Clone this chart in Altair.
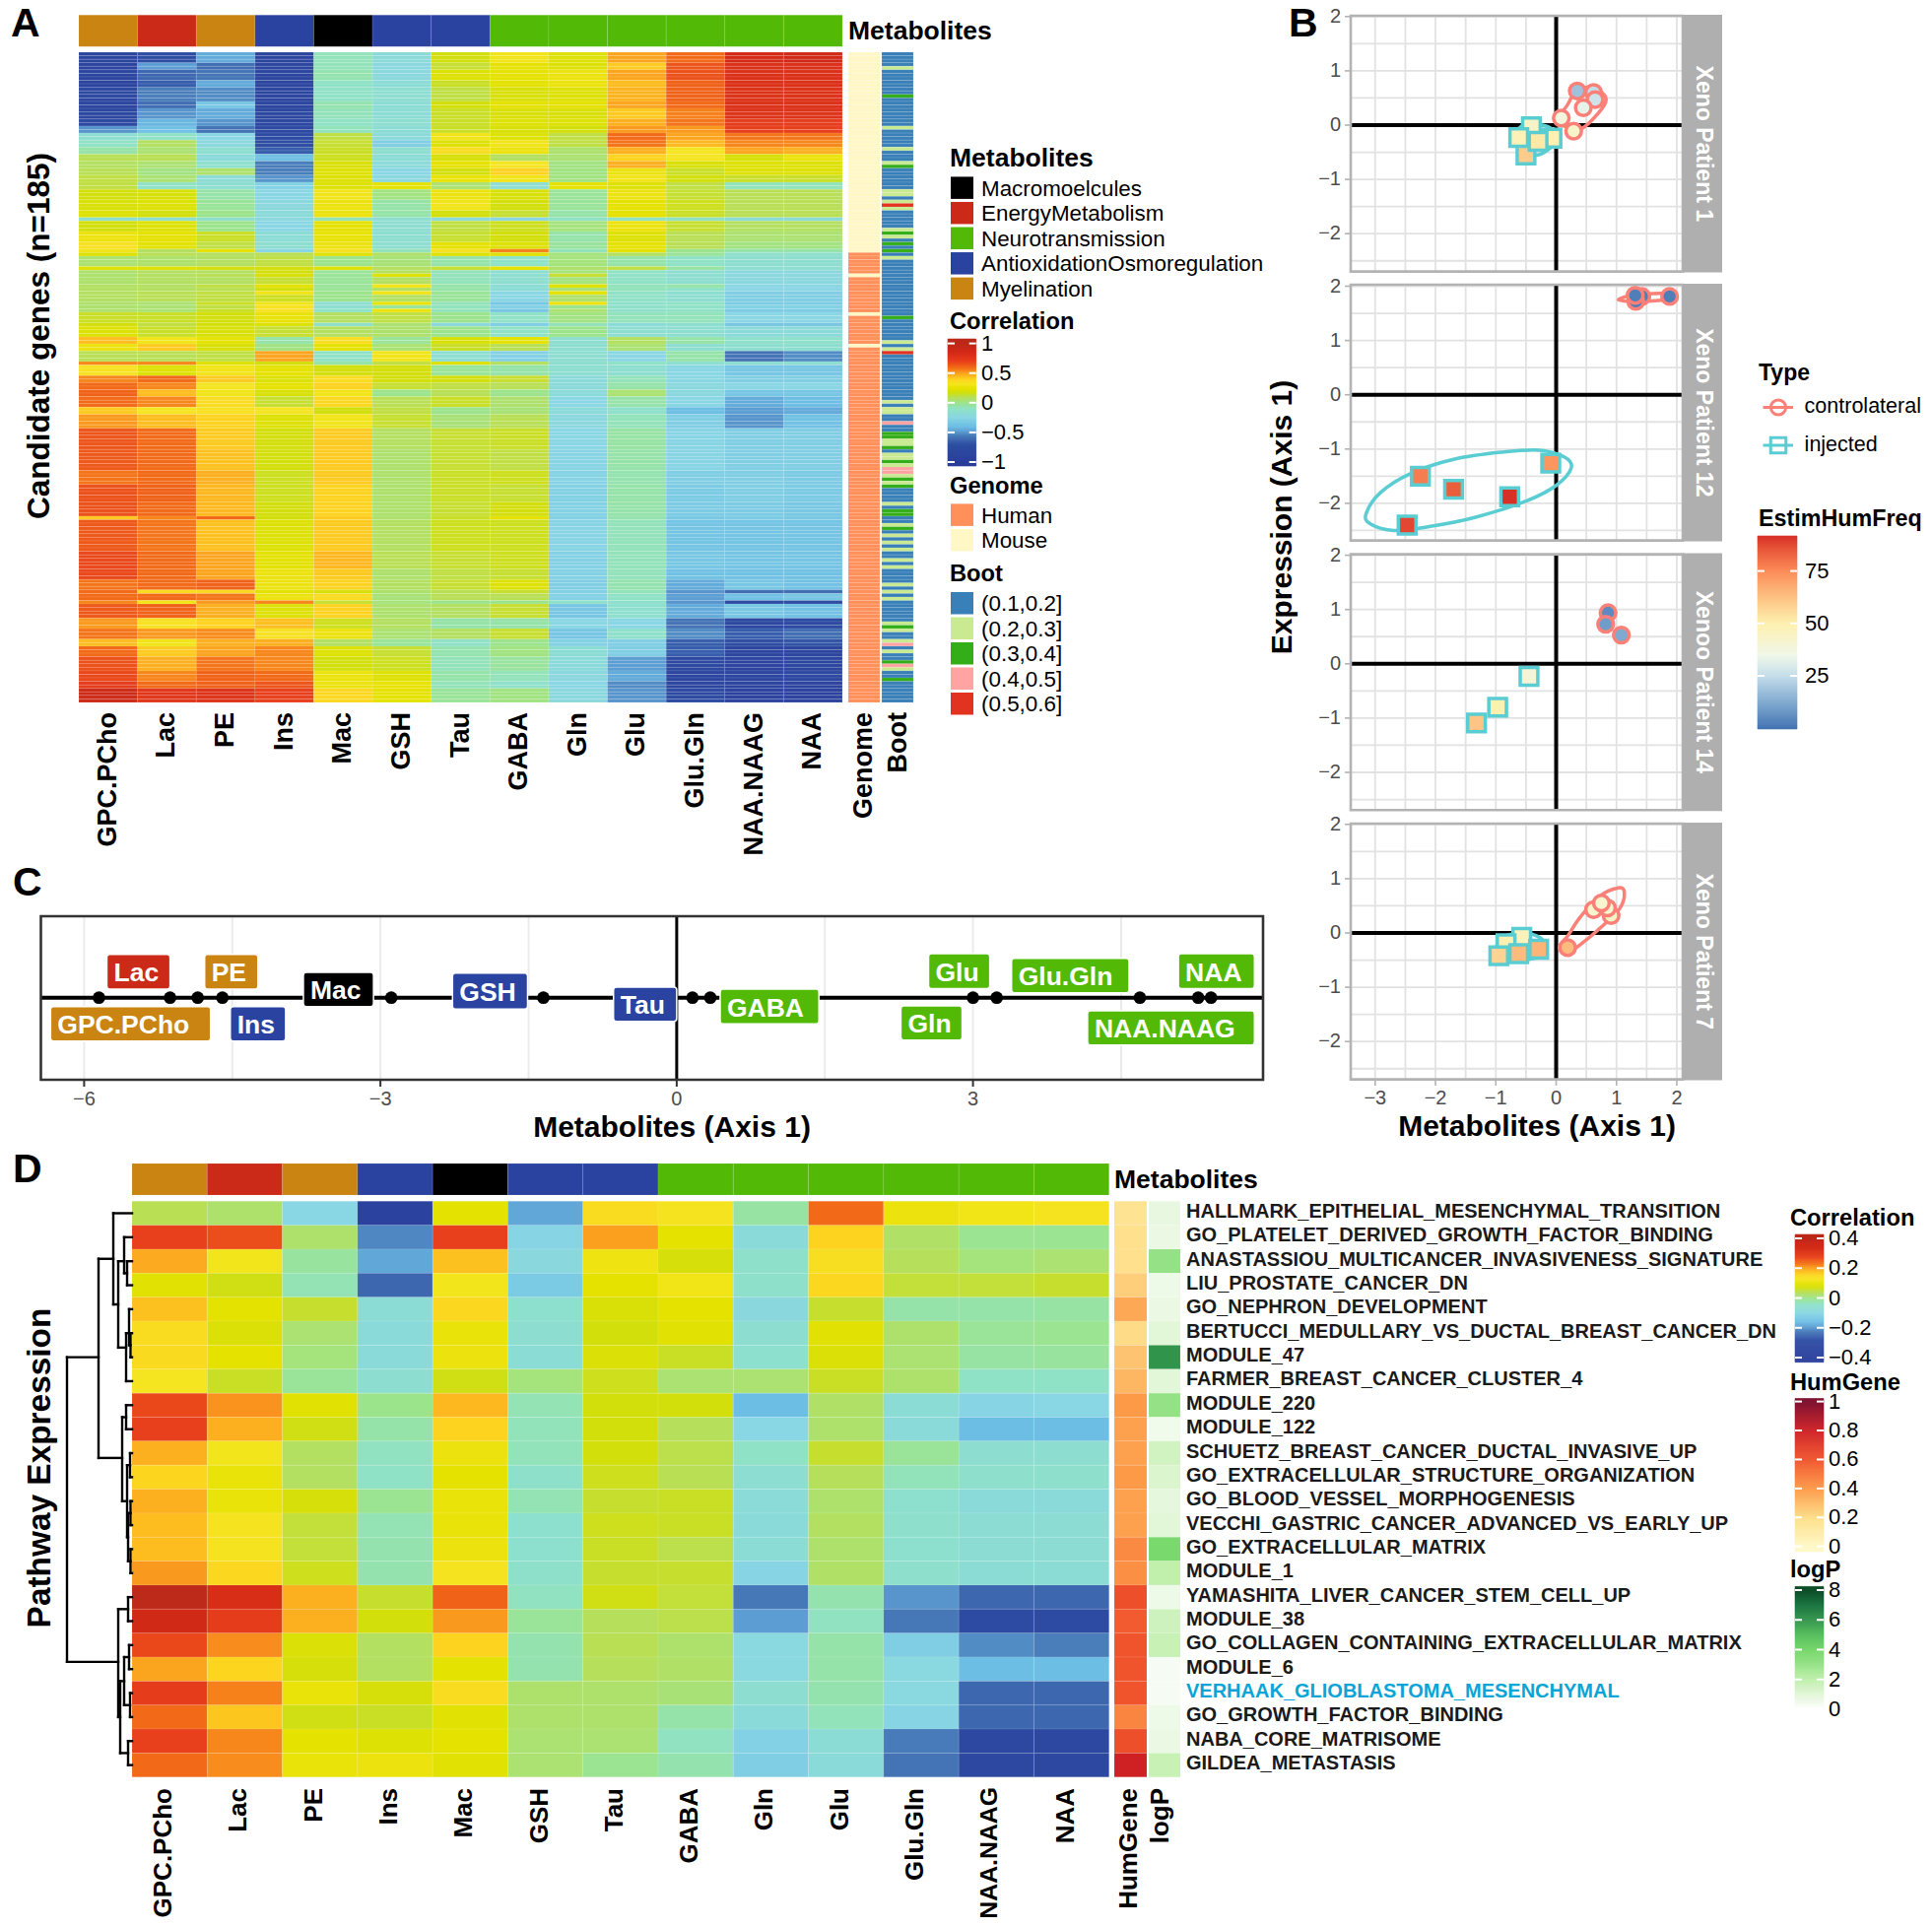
import altair as alt
import numpy as np
import pandas as pd

FONT = "Liberation Sans"
METAB = ["GPC.PCho","Lac","PE","Ins","Mac","GSH","Tau","GABA","Gln","Glu","Glu.Gln","NAA.NAAG","NAA"]
CLASS = ["Myelination","EnergyMetabolism","Myelination","AntioxidationOsmoregulation","Macromoelcules",
         "AntioxidationOsmoregulation","AntioxidationOsmoregulation"] + ["Neurotransmission"]*6
CLASS_NAMES = ["Macromoelcules","EnergyMetabolism","Neurotransmission","AntioxidationOsmoregulation","Myelination"]
CLASS_COLS = ["#000000","#CB2A18","#52BA07","#2A43A0","#C98412"]

STOPS = [-100,-70,-55,-47,-40,-25,-10,0,10,18,25,32,40,46,50,56,60,70,85,100]
COLS = ["#2A3E9C","#2E4EA4","#4A7EBB","#5FA3D6","#6DBEE4","#89D6E4","#8FE2C6","#9CE48C","#B9DF55","#D3DF0A",
        "#E6E200","#F5E520","#FDD31F","#FDB81F","#FBA51F","#F6801A","#F26A17","#E8401C","#D42A16","#BE2A1A"]

A_BANDS = [
(3,[-85,-70,-45,-85,-8,-20,18,30,22,50,60,84,88]),
(2,[-88,-48,-60,-85,-8,-22,14,25,22,42,65,80,80]),
(3,[-85,-62,-58,-85,-6,-22,22,25,28,50,66,80,80]),
(2,[-88,-65,-45,-85,-10,-18,15,24,28,45,62,80,80]),
(4,[-82,-55,-52,-85,-10,-15,12,20,22,47,62,79,79]),
(2,[-85,-60,-35,-85,-6,-18,18,25,25,50,60,80,80]),
(3,[-82,-50,-45,-82,-8,-18,15,20,20,42,56,78,78]),
(2,[-78,-42,-50,-82,-10,-15,15,22,22,48,58,72,72]),
(2,[-50,-38,-58,-80,-8,-18,15,20,18,52,52,70,70]),
(2,[-15,-10,-25,-75,12,-20,30,22,12,60,50,58,58]),
(2,[-10,8,-22,-72,14,-30,22,30,12,58,46,55,55]),
(2,[-5,5,-15,-65,15,-15,35,28,6,48,32,50,48]),
(2,[10,10,-20,-38,16,-18,20,8,5,40,32,20,28]),
(2,[8,5,-14,-55,20,-20,25,32,2,48,20,22,22]),
(2,[10,2,6,-55,22,-25,18,40,2,28,15,22,22]),
(2,[12,5,-18,-50,22,-22,26,30,2,30,18,15,15]),
(2,[12,-10,-15,-28,22,25,5,-15,25,22,12,-8,-8]),
(3,[18,20,-5,-25,30,2,28,20,-2,28,14,10,10]),
(3,[20,22,-2,-22,28,-5,30,18,-2,25,16,10,10]),
(2,[22,18,0,-20,28,-5,18,14,-5,25,15,10,10]),
(1,[-15,-15,-12,-22,-8,-15,-20,-25,-10,-10,-10,-20,-20]),
(3,[18,22,0,-25,25,-15,12,16,3,28,14,8,8]),
(3,[28,25,15,-18,26,-15,14,18,-5,22,10,5,5]),
(2,[34,24,12,-15,28,-15,25,22,-3,25,10,2,2]),
(1,[30,8,25,-25,34,-8,34,56,-8,25,0,-5,-5]),
(1,[22,10,8,10,22,6,22,22,3,8,-2,-12,-12]),
(3,[5,6,8,12,0,4,-5,-10,3,-5,-10,-15,-15]),
(1,[22,22,18,18,22,8,14,24,6,12,-4,-15,-15]),
(1,[6,8,8,18,-2,8,-8,-15,3,-10,-15,-22,-22]),
(1,[6,8,10,20,-2,22,-8,-15,14,-10,-15,-22,-22]),
(2,[6,8,8,14,-2,8,-8,-15,3,-10,-15,-22,-22]),
(1,[8,8,12,24,-2,30,-5,-18,22,-8,-5,-25,-25]),
(1,[8,8,10,18,-2,8,-5,-18,4,-8,-10,-25,-25]),
(1,[8,10,12,30,0,30,-2,-25,25,-10,-15,-30,-30]),
(2,[8,10,12,16,0,8,-2,-25,6,-10,-15,-30,-30]),
(1,[6,5,15,30,-15,26,-8,-35,28,-12,-10,-32,-32]),
(1,[6,5,12,34,-15,-2,-8,-28,0,-12,-10,-28,-28]),
(1,[6,5,15,34,-10,28,-8,-35,5,-12,-10,-32,-32]),
(3,[15,15,18,26,8,12,0,-10,2,-8,-8,-25,-25]),
(1,[18,12,18,22,-12,5,-22,-30,-8,-20,-15,-35,-35]),
(3,[22,15,20,14,8,6,0,-10,0,-15,-15,-20,-20]),
(2,[45,30,25,-5,35,-2,20,24,-15,8,-5,-12,-12]),
(2,[28,42,20,2,25,5,15,10,-15,5,-15,-15,-15]),
(3,[10,10,12,50,-10,30,-15,-28,-15,-25,-5,-58,-52]),
(1,[55,55,22,18,-5,12,22,8,-15,-10,-15,-15,-15]),
(3,[34,22,30,25,18,18,-2,-5,-15,-15,-25,-35,-35]),
(2,[55,60,42,22,36,18,18,14,-20,-8,-25,-30,-30]),
(2,[60,55,32,25,40,14,12,10,-20,-5,-22,-25,-25]),
(2,[62,45,30,20,30,0,10,0,-20,5,-22,-35,-35]),
(3,[60,55,36,14,38,10,15,6,-25,-5,-25,-45,-40]),
(2,[42,32,34,32,18,12,0,4,-20,-12,-40,-48,-45]),
(4,[52,45,40,22,30,14,4,10,-22,-8,-30,-50,-38]),
(6,[65,60,42,18,42,8,14,15,-25,-4,-26,-30,-30]),
(6,[64,60,44,18,42,6,14,12,-26,-5,-26,-30,-30]),
(4,[58,60,48,16,42,6,15,16,-27,-6,-30,-30,-32]),
(5,[66,62,46,16,40,6,15,14,-28,-5,-32,-30,-32]),
(4,[66,60,46,18,40,6,14,18,-28,-5,-32,-32,-34]),
(1,[42,55,60,18,42,6,15,25,-28,-6,-34,-32,-34]),
(9,[64,58,44,22,42,8,16,16,-26,-8,-36,-36,-36]),
(5,[68,60,50,24,46,10,14,16,-28,-8,-35,-36,-36]),
(3,[68,60,50,28,42,6,12,14,-28,-8,-38,-38,-38]),
(3,[58,60,62,28,40,8,14,22,-30,-6,-45,-35,-38]),
(1,[60,36,38,24,20,6,10,14,-28,-8,-50,-60,-60]),
(2,[60,60,58,28,36,4,10,10,-28,-10,-48,-38,-35]),
(1,[55,30,52,55,14,3,0,0,-12,-14,-50,-75,-70]),
(4,[64,62,48,22,40,6,8,14,-35,-14,-45,-35,-38]),
(3,[52,34,40,44,16,8,-5,-5,-25,-25,-58,-82,-78]),
(3,[58,52,54,34,28,5,8,14,-35,-12,-52,-65,-60]),
(2,[45,30,48,48,8,-2,-10,0,-28,-30,-65,-72,-68]),
(3,[60,42,50,55,22,14,-6,2,-18,-30,-65,-85,-85]),
(4,[66,48,58,55,18,16,-8,-3,-20,-48,-82,-88,-85]),
(3,[68,55,62,60,28,22,-5,-8,-22,-45,-85,-85,-82]),
(2,[72,60,62,65,28,26,-8,-12,-25,-52,-85,-88,-88]),
(4,[90,76,78,70,38,25,-2,2,-22,-50,-78,-90,-90]),
]
GENOME_RUNS = [("Mouse",57),("Human",6),("Mouse",1),("Human",10),("Mouse",1),("Human",8),("Mouse",1),("Human",101)]
BOOT_NAMES = ["(0.1,0.2]","(0.2,0.3]","(0.3,0.4]","(0.4,0.5]","(0.5,0.6]"]
BOOT_COLS = ["#3A80B8","#C9EA90","#33AE18","#FFA3A3","#E23320"]
BOOT_RUNS = [(1,4),(2,1),(1,7),(3,1),(1,8),(2,1),(1,5),(2,1),(1,3),(2,1),(3,1),(1,6),(2,2),(1,1),(2,1),(5,1),(2,1),(1,5),
 (2,1),(3,1),(2,1),(1,1),(3,1),(1,1),(3,1),(1,1),(2,1),(1,16),(3,1),(1,6),(2,1),(1,1),(2,1),(5,1),(1,13),(2,1),(1,1),(2,2),
 (1,2),(4,1),(1,2),(3,2),(2,2),(3,1),(1,1),(2,2),(3,1),(2,1),(4,2),(2,1),(3,1),(2,1),(3,1),(1,4),(2,1),(1,1),(3,2),(1,2),
 (2,1),(3,1),(1,1),(2,1),(1,1),(2,1),(1,1),(2,1),(1,2),(2,1),(1,1),(2,1),(1,4),(2,1),(1,1),(2,1),(1,1),(2,1),(1,6),(2,1),
 (3,1),(2,1),(1,2),(2,1),(4,1),(1,1),(2,1),(1,2),(3,1),(4,1),(2,1),(1,2),(3,1),(1,8)]

D_NAMES = ["HALLMARK_EPITHELIAL_MESENCHYMAL_TRANSITION","GO_PLATELET_DERIVED_GROWTH_FACTOR_BINDING",
"ANASTASSIOU_MULTICANCER_INVASIVENESS_SIGNATURE","LIU_PROSTATE_CANCER_DN","GO_NEPHRON_DEVELOPMENT",
"BERTUCCI_MEDULLARY_VS_DUCTAL_BREAST_CANCER_DN","MODULE_47","FARMER_BREAST_CANCER_CLUSTER_4","MODULE_220","MODULE_122",
"SCHUETZ_BREAST_CANCER_DUCTAL_INVASIVE_UP","GO_EXTRACELLULAR_STRUCTURE_ORGANIZATION","GO_BLOOD_VESSEL_MORPHOGENESIS",
"VECCHI_GASTRIC_CANCER_ADVANCED_VS_EARLY_UP","GO_EXTRACELLULAR_MATRIX","MODULE_1","YAMASHITA_LIVER_CANCER_STEM_CELL_UP",
"MODULE_38","GO_COLLAGEN_CONTAINING_EXTRACELLULAR_MATRIX","MODULE_6","VERHAAK_GLIOBLASTOMA_MESENCHYMAL",
"GO_GROWTH_FACTOR_BINDING","NABA_CORE_MATRISOME","GILDEA_METASTASIS"]
D_ROWS = [
[10,6,-25,-90,24,-46,36,33,-4,60,28,30,33],
[70,67,6,-53,70,-26,51,25,-20,40,7,-1,-1],
[49,31,-3,-46,44,-22,29,19,-12,35,9,3,5],
[23,17,-7,-62,31,-32,25,30,-12,38,13,13,14],
[44,24,14,-18,38,-14,20,25,-22,14,-5,-5,-4],
[36,21,5,-20,27,-15,18,23,-15,23,6,-2,-1],
[37,25,3,-20,28,-18,21,15,-14,21,5,-4,-3],
[32,15,-2,-15,17,3,16,5,5,15,6,-10,-10],
[68,53,23,0,46,-7,18,18,-40,7,-18,-26,-25],
[70,48,17,-5,40,-8,18,9,-25,6,-20,-40,-40],
[48,31,8,-9,28,-8,18,11,-10,14,-2,-15,-15],
[39,27,8,-10,25,-12,16,10,-16,9,-8,-13,-13],
[48,27,19,-1,27,-7,14,15,-19,6,-14,-20,-20],
[45,33,13,-7,27,-14,16,15,-20,8,-13,-17,-17],
[45,33,13,-6,28,-14,15,11,-18,6,-14,-17,-17],
[52,38,16,-6,33,-12,14,14,-26,7,-13,-18,-18],
[100,82,48,14,62,-9,17,13,-57,-6,-50,-62,-62],
[88,72,48,18,52,-2,9,11,-48,-9,-57,-75,-75],
[68,54,21,8,40,-6,10,6,-23,-5,-30,-52,-55],
[50,39,19,8,24,-6,9,7,-23,-5,-23,-40,-40],
[72,56,27,19,36,6,6,4,-15,-6,-23,-62,-62],
[60,43,17,15,23,6,6,-5,-20,-8,-26,-62,-62],
[70,55,25,22,25,5,5,-9,-28,-18,-56,-82,-82],
[60,54,27,28,23,5,-1,-6,-30,-20,-58,-82,-82],
]
D_HUM = [.17,.19,.19,.25,.36,.21,.28,.32,.40,.38,.38,.40,.38,.38,.45,.43,.62,.58,.60,.60,.60,.46,.62,.80]
D_LOGP = [.8,.7,3,.6,.7,1,6,1,3,.5,1.5,1.2,.9,1,3.8,2,.6,1.6,1.8,.3,.3,.6,.7,1.8]
HUM_STOPS = [0,.2,.4,.6,.8,1]
HUM_COLS = ["#FFF9C9","#FEDF8A","#FD9A48","#F0542C","#CF2024","#7B0A2A"]
LOGP_STOPS = [0,1,2,3,4,5,6,7,8]
LOGP_COLS = ["#FFFFFF","#E2F6D8","#C0F0AC","#95E286","#72D766","#52BC58","#30954A","#12703A","#03461F"]
# dendrogram merges: height, child a row, child a height, child b row, child b height
MERGES = [(66,6.0,34,18.7,14),(34,1.9,19,10.2,10),(19,0,0,3.8,14),(14,2,8,5.6,6),(8,1,0,2.5,5),(5,2,0,3,0),(6,5,3,7,0),
(3,4,0,5.5,1.5),(1.5,5,0,6,0),(10,8.5,6,12,5),(6,8,0,9,0),(5,10.5,2,13.5,4),(2,10,0,11,0),(4,12.5,1.5,14.5,1.5),
(1.5,12,0,13,0),(1.5,14,0,15,0),(14,16.5,4,21,12),(4,16,0,17,0),(12,19.5,8,22.5,4),(8,18.5,3,20.5,2),(3,18,0,19,0),
(2,20,0,21,0),(4,22,0,23,0)]

FREQ_STOPS = [0,12,25,35,50,62,75,85,92]
FREQ_COLS = ["#4575B4","#7FA9CF","#C5DDEA","#F0F8E8","#FEF0B0","#FDC585","#FC8D59","#E9593A","#D73027"]
# panel B: x, y, EstimHumFreq
B_FACETS = ["Xeno Patient 1","Xeno Patient 12","Xenoo Patient 14","Xeno Patient 7"]
B_ZERO = [127,400.7,673.8,947]
B_TOP = [16,289,562.6,836]
B_CIRC = [
 [(.35,.63,18),(.62,.60,25),(.645,.47,27),(.45,.32,33),(.085,.13,38),(.29,-.11,43)],
 [(1.31,1.83,2),(1.42,1.81,2),(1.32,1.72,2),(1.88,1.81,2),(1.31,1.83,2)],
 [(.86,.94,5),(.82,.73,9),(1.08,.53,12)],
 [(.19,-.27,64),(.91,.32,44),(.85,.46,42),(.62,.43,42),(.75,.55,42)],
]
B_SQ = [
 [(-.5,-.55,60),(-.41,-.03,44),(-.62,-.23,48),(-.07,-.24,50),(-.30,-.30,52)],
 [(-2.25,-1.5,78),(-1.7,-1.74,84),(-.77,-1.88,92),(-2.47,-2.40,88),(-.09,-1.26,73)],
 [(-.45,-.23,40),(-.97,-.80,50),(-1.32,-1.09,62)],
 [(-.57,-.08,47),(-.29,-.30,66),(-.83,-.20,50),(-.95,-.42,58),(-.62,-.38,64)],
]
B_ELL_C = [
 [(.05,.13),(.18,.36),(.32,.60),(.57,.71),(.76,.60),(.82,.42),(.60,.10),(.39,-.08),(.18,-.05)],
 [(1.03,1.75),(1.3,1.84),(1.9,1.87),(1.98,1.8),(1.85,1.75),(1.3,1.72)],
 [],
 [(.05,-.26),(.2,-.04),(.39,.28),(.71,.67),(1.03,.83),(1.13,.75),(1.06,.46),(.78,.14),(.43,-.19),(.18,-.37)],
]
B_ELL_I = [
 [(-.6,-.45),(-.3,-.55),(0,-.3),(-.1,-.05),(-.5,.02),(-.7,-.2)],
 [(-3.15,-2.19),(-2.91,-1.80),(-2.41,-1.45),(-1.70,-1.19),(-.92,-1.06),(-.28,-1.02),(.14,-1.15),(.25,-1.35),(0,-1.67),
  (-.5,-1.96),(-1.35,-2.26),(-2.06,-2.42),(-2.69,-2.5),(-3.08,-2.38)],
 [],
 [(-1.0,-.45),(-.6,-.5),(-.2,-.4),(-.2,-.15),(-.5,.0),(-.9,-.1)],
]
# panel C
C_DOTS = [-5.85,-5.13,-4.85,-4.60,-2.89,-1.35,.16,.34,3.0,3.24,4.69,5.28,5.41]
C_LAB = ["Lac","PE","GPC.PCho","Ins","Mac","GSH","Tau","GABA","Gln","Glu","Glu.Gln","NAA","NAA.NAAG"]
C_LO = [-5.77,-4.78,-6.34,-4.52,-3.78,-2.27,-.64,.44,2.27,2.55,3.39,5.08,4.16]
C_HI = [-5.13,-4.24,-4.72,-3.96,-3.07,-1.51,0,1.44,2.89,3.17,4.58,5.85,5.85]
C_TOP = [.53,.53,-.11,-.11,.31,.30,.13,.105,-.10,.54,.48,.54,-.16]
C_BOT = [.105,.105,-.53,-.53,-.11,-.14,-.29,-.32,-.52,.11,.06,.11,-.58]
C_CLASS = ["EnergyMetabolism","Myelination","Myelination","AntioxidationOsmoregulation","Macromoelcules",
 "AntioxidationOsmoregulation","AntioxidationOsmoregulation"]+["Neurotransmission"]*6

# ---------- helpers ----------
def sx(dom=(0,1961), rng=(0,1961)):
    return alt.Scale(domain=list(dom), range=[rng[0]-8, rng[1]-8], nice=False, zero=False)
def sy(dom=(0,1957), rng=(0,1957)):
    return alt.Scale(domain=list(dom), range=[rng[0]-8, rng[1]-8], nice=False, zero=False)
def X(f, s=None):
    return alt.X(f+":Q", scale=s or sx(), axis=None)
def Y(f, s=None):
    return alt.Y(f+":Q", scale=s or sy(), axis=None)
def text(items, size, weight="normal", color="#000000", angle=0, align="left", baseline="middle"):
    df = pd.DataFrame(items, columns=["t","x","y"])
    return alt.Chart(df).mark_text(font=FONT, fontSize=size, fontWeight=weight, color=color, angle=angle,
                                   align=align, baseline=baseline).encode(x=X("x"), y=Y("y"), text="t:N")
def boxes(rows, color=None, **mk):
    df = pd.DataFrame(rows, columns=["x","x2","y","y2"])
    return alt.Chart(df).mark_rect(**({"color":color} if color else {}), **mk).encode(
        x=X("x"), x2=alt.X2("x2"), y=Y("y"), y2=alt.Y2("y2"))
def frame(x, x2, y, y2, stroke, w):
    return boxes([(x,x2,y,y2)], fillOpacity=0, stroke=stroke, strokeWidth=w)
def hrule(rows, color, w, xs=None, ys=None, **mk):
    df = pd.DataFrame(rows, columns=["x","x2","y"])
    return alt.Chart(df).mark_rule(color=color, strokeWidth=w, **mk).encode(x=X("x",xs), x2=alt.X2("x2"), y=Y("y",ys))
def vrule(rows, color, w, xs=None, ys=None, **mk):
    df = pd.DataFrame(rows, columns=["x","y","y2"])
    return alt.Chart(df).mark_rule(color=color, strokeWidth=w, **mk).encode(x=X("x",xs), y=Y("y",ys), y2=alt.Y2("y2"))
def heat(df, xs, ys, colorscale, field="v:Q"):
    return alt.Chart(df).mark_rect(stroke="#FFFFFF", strokeOpacity=.15, strokeWidth=.7).encode(
        x=X("c",xs), x2=alt.X2("c2"), y=Y("r",ys), y2=alt.Y2("r2"),
        color=alt.Color(field, scale=colorscale, legend=None))
def cscale(stops, cols):
    return alt.Scale(domain=list(stops), range=list(cols), clamp=True, interpolate="rgb", zero=False, nice=False)
def catscale(names, cols):
    return alt.Scale(domain=list(names), range=list(cols))
def colorbar(x0,x1,top,bot,vlo,ylo,vhi,yhi,stops,cols,ticks,labels,lx,size=22):
    ys = sy((vlo,vhi),(ylo,yhi))
    per = (ylo-yhi)/(vhi-vlo)
    vt, vb = vhi+(yhi-top)/per, vlo-(bot-ylo)/per
    e = np.linspace(vb,vt,int(bot-top)+1)
    df = pd.DataFrame({"a":x0,"b":x1,"v":e[:-1],"v2":e[1:],"m":(e[:-1]+e[1:])/2})
    cs = cscale(stops,cols)
    rect = alt.Chart(df).mark_rect(strokeWidth=.6).encode(x=X("a"),x2=alt.X2("b"),y=Y("v",ys),y2=alt.Y2("v2"),
        color=alt.Color("m:Q",scale=cs,legend=None), stroke=alt.Stroke("m:Q",scale=cs,legend=None))
    rows = [(x0,x0+7,t) for t in ticks]+[(x1-7,x1,t) for t in ticks]
    tk = hrule(rows,"#FFFFFF",2,ys=ys)
    ldf = pd.DataFrame({"t":labels,"x":lx,"y":ticks})
    lab = alt.Chart(ldf).mark_text(font=FONT,fontSize=size,align="left",baseline="middle",color="#000000").encode(
        x=X("x"),y=Y("y",ys),text="t:N")
    return [rect,tk,lab]
def swatch_legend(names,cols,x,y0,step,h=22.5,w=23,size=22.4,lx=996):
    ls=[]
    for i,(n,c) in enumerate(zip(names,cols)):
        ls.append(boxes([(x,x+w,y0+i*step,y0+i*step+h)],color=c))
    ls.append(text([(n,lx,y0+i*step+h/2+1) for i,n in enumerate(names)],size))
    return ls

L = []
# ---------- Panel A ----------
AX0,AX1,AY0,AY1 = 80,855,53,713
rows=[]; ri=0
for cnt,vals in A_BANDS:
    for k in range(cnt):
        for j,v in enumerate(vals):
            rows.append((j,j+1,ri,ri+1,v))
        ri+=1
dfa = pd.DataFrame(rows,columns=["c","c2","r","r2","v"])
corr = cscale(STOPS,COLS)
xa = sx((0,13),(AX0,AX1)); ya = sy((0,ri),(AY0,AY1))
L.append(heat(dfa,xa,ya,corr))
def annot(x0,x1,y0,y1):
    df = pd.DataFrame({"c":range(13),"c2":range(1,14),"r":0,"r2":1,"k":CLASS})
    return heat(df,sx((0,13),(x0,x1)),sy((0,1),(y0,y1)),catscale(CLASS_NAMES,CLASS_COLS),"k:N")
L.append(annot(AX0,AX1,15.3,47.3))
gen=[]
for n,c in GENOME_RUNS: gen += [n]*c
gdf = pd.DataFrame({"c":0,"c2":1,"r":range(185),"r2":range(1,186),"k":gen[:185]})
L.append(heat(gdf,sx((0,1),(861,893)),sy((0,185),(AY0,AY1)),catscale(["Human","Mouse"],["#FF905A","#FFF7C5"]),"k:N"))
bt=[]
for n,c in BOOT_RUNS: bt += [BOOT_NAMES[n-1]]*c
bt = (bt+[BOOT_NAMES[0]]*185)[:185]
bdf = pd.DataFrame({"c":0,"c2":1,"r":range(185),"r2":range(1,186),"k":bt})
L.append(heat(bdf,sx((0,1),(895,927)),sy((0,185),(AY0,AY1)),catscale(BOOT_NAMES,BOOT_COLS),"k:N"))
cw=(AX1-AX0)/13
L.append(text([(m,AX0+(i+.5)*cw,723) for i,m in enumerate(METAB)]+[("Genome",877,723),("Boot",912,723)],27,"bold",angle=270,align="right"))
L.append(text([("Metabolites",861,32)],26.5,"bold"))
L.append(text([("Candidate genes (n=185)",41,341)],31.5,"bold",angle=270,align="center"))
L.append(text([("A",11,25),("B",1308,25),("C",13,897),("D",13,1188)],41,"bold"))
# A legends
L.append(text([("Metabolites",964,161)],26.5,"bold"))
L += swatch_legend(CLASS_NAMES,CLASS_COLS,965,179.4,25.55)
L.append(text([("Correlation",964,327),("Genome",964,493.5),("Boot",964,583)],23.7,"bold"))
L += colorbar(962,990.7,344,473,-1,469,1,348.6,[s/100 for s in STOPS],COLS,[1,.5,0,-.5,-1],["1","0.5","0","\u22120.5","\u22121"],996)
L += swatch_legend(["Human","Mouse"],["#FF905A","#FFF7C5"],965,511.4,25.55)
L += swatch_legend(BOOT_NAMES,BOOT_COLS,965,601,25.5)

# ---------- Panel B ----------
BX0,BX1,BH = 1371,1708,259.6
xb = sx((-3,2),(1395.8,1702))
fcs = cscale(FREQ_STOPS,FREQ_COLS)
SAL,CYA = "#FB8078","#5ACDD2"
gx = [-3,-2.5,-2,-1.5,-1,-.5,0,.5,1,1.5,2]
gy = [-2.5,-2,-1.5,-1,-.5,0,.5,1,1.5,2]
for i,name in enumerate(B_FACETS):
    top,zero = B_TOP[i],B_ZERO[i]; bot = top+BH
    yb = sy((-2,2),(zero+110.2,zero-110.2))
    L.append(vrule([(g,top,bot) for g in gx],"#E2E2E2",1.8,xs=xb))
    L.append(hrule([(BX0,BX1,g) for g in gy],"#E2E2E2",1.8,ys=yb))
    L.append(vrule([(0,top,bot)],"#000000",4,xs=xb))
    L.append(hrule([(BX0,BX1,0)],"#000000",4,ys=yb))
    for ell,col in ((B_ELL_C[i],SAL),(B_ELL_I[i],CYA)):
        if ell:
            edf = pd.DataFrame(ell,columns=["x","y"]); edf["o"]=range(len(ell))
            L.append(alt.Chart(edf).mark_line(interpolate="cardinal-closed",color=col,strokeWidth=3.5).encode(
                x=X("x",xb),y=Y("y",yb),order="o:Q"))
    for pts,shape,col,size in ((B_CIRC[i],"circle",SAL,250),(B_SQ[i],"square",CYA,320)):
        pdf = pd.DataFrame(pts,columns=["x","y","f"])
        L.append(alt.Chart(pdf).mark_point(shape=shape,filled=True,size=size,stroke=col,strokeWidth=3.5,opacity=1).encode(
            x=X("x",xb),y=Y("y",yb),fill=alt.Fill("f:Q",scale=fcs,legend=None)))
    L.append(frame(BX0,BX1,top,bot,"#B3B3B3",2.6))
    L.append(boxes([(BX1,1748,top-1,bot+1)],color="#B0AFAF"))
    L.append(text([(name,1729,top+BH/2)],23,"bold",color="#FFFFFF",angle=90,align="center"))
    L.append(hrule([(1365,BX0,g) for g in (-2,-1,0,1,2)],"#B3B3B3",1.6,ys=yb))
    tdf = pd.DataFrame({"t":["\u22122","\u22121","0","1","2"],"x":1361,"y":[-2,-1,0,1,2]})
    L.append(alt.Chart(tdf).mark_text(font=FONT,fontSize=20,align="right",baseline="middle",color="#4D4D4D").encode(
        x=X("x"),y=Y("y",yb),text="t:N"))
L.append(vrule([(g,1095.6,1102) for g in (-3,-2,-1,0,1,2)],"#B3B3B3",1.6,xs=xb))
tdf = pd.DataFrame({"t":["\u22123","\u22122","\u22121","0","1","2"],"x":[-3,-2,-1,0,1,2],"y":1115})
L.append(alt.Chart(tdf).mark_text(font=FONT,fontSize=20,align="center",baseline="middle",color="#4D4D4D").encode(
    x=X("x",xb),y=Y("y"),text="t:N"))
L.append(text([("Metabolites (Axis 1)",1560,1144),("Metabolites (Axis 1)",682,1145)],30,"bold",align="center"))
L.append(text([("Expression (Axis 1)",1302,525)],30,"bold",angle=270,align="center"))
L.append(text([("Type",1785,378.5)],23,"bold"))
L.append(hrule([(1789.5,1820,413.5)],SAL,3))
L.append(hrule([(1789.5,1820,452)],CYA,3))
for (yy,shape,col,sz) in ((413.5,"circle",SAL,230),(452,"square",CYA,240)):
    L.append(alt.Chart(pd.DataFrame({"x":[1805],"y":[yy]})).mark_point(shape=shape,size=sz,stroke=col,strokeWidth=3,opacity=1).encode(x=X("x"),y=Y("y")))
L.append(text([("controlateral",1831.6,413),("injected",1831.6,452)],21.5))
L.append(text([("EstimHumFreq",1785,527)],23.3,"bold"))
L += colorbar(1784,1824,544,740,25,686,75,579.6,FREQ_STOPS,FREQ_COLS,[75,50,25],["75","50","25"],1832)

# ---------- Panel C ----------
CX0,CX1,CY0,CY1 = 41.5,1282,930,1096
xc = sx((-6,3),(85.4,987.6)); yc = sy((-1,1),(1095.7,929.7))
L.append(vrule([(g,CY0,CY1) for g in (-6,-4.5,-3,-1.5,1.5,3,4.5)],"#EBEBEB",2,xs=xc))
L.append(hrule([(CX0,CX1,0)],"#000000",4,ys=yc))
L.append(vrule([(0,CY0,CY1)],"#000000",3,xs=xc))
L.append(alt.Chart(pd.DataFrame({"x":C_DOTS,"y":0})).mark_point(shape="circle",filled=True,size=165,color="#000000",opacity=1).encode(
    x=X("x",xc),y=Y("y",yc)))
cdf = pd.DataFrame({"t":C_LAB,"a":C_LO,"b":C_HI,"u":C_TOP,"d":C_BOT,"k":C_CLASS})
cdf["m"]=(cdf.u+cdf.d)/2
L.append(alt.Chart(cdf).mark_rect(cornerRadius=3,stroke="#FFFFFF",strokeWidth=1.5).encode(
    x=X("a",xc),x2=alt.X2("b"),y=Y("u",yc),y2=alt.Y2("d"),
    color=alt.Color("k:N",scale=catscale(CLASS_NAMES,CLASS_COLS),legend=None)))
L.append(alt.Chart(cdf).mark_text(font=FONT,fontSize=26.5,fontWeight="bold",color="#FFFFFF",align="left",baseline="middle",dx=7,dy=2).encode(
    x=X("a",xc),y=Y("m",yc),text="t:N"))
L.append(frame(CX0,CX1,CY0,CY1,"#333333",2.6))
L.append(vrule([(g,1096,1103) for g in (-6,-3,0,3)],"#333333",2,xs=xc))
tdf = pd.DataFrame({"t":["\u22126","\u22123","0","3"],"x":[-6,-3,0,3],"y":1116})
L.append(alt.Chart(tdf).mark_text(font=FONT,fontSize=20,align="center",baseline="middle",color="#4D4D4D").encode(
    x=X("x",xc),y=Y("y"),text="t:N"))

# ---------- Panel D ----------
DX0,DX1,DY0,DY1 = 134,1125.7,1219.3,1803.8
rows=[(j,j+1,i,i+1,v/250) for i,r in enumerate(D_ROWS) for j,v in enumerate(r)]
dfd = pd.DataFrame(rows,columns=["c","c2","r","r2","v"])
xd = sx((0,13),(DX0,DX1)); yd = sy((0,24),(DY0,DY1))
DSTOPS=[s/250 for s in STOPS]
L.append(heat(dfd,xd,yd,cscale(DSTOPS,COLS)))
L.append(annot(DX0,DX1,1181,1213))
hdf = pd.DataFrame({"c":0,"c2":1,"r":range(24),"r2":range(1,25),"v":D_HUM})
L.append(heat(hdf,sx((0,1),(1131,1164)),yd,cscale(HUM_STOPS,HUM_COLS)))
pdf = pd.DataFrame({"c":0,"c2":1,"r":range(24),"r2":range(1,25),"v":D_LOGP})
L.append(heat(pdf,sx((0,1),(1166,1198)),yd,cscale(LOGP_STOPS,LOGP_COLS)))
dw=(DX1-DX0)/13
L.append(text([(m,DX0+(i+.5)*dw-6,1815) for i,m in enumerate(METAB) if m!="NAA.NAAG"]+[("HumGene",1146,1815),("logP",1178,1815)],26,"bold",angle=270,align="right"))
L.append(text([(m,DX0+(i+.5)*dw-6,1814) for i,m in enumerate(METAB) if m=="NAA.NAAG"],24.8,"bold",angle=270,align="right"))
L.append(text([("Metabolites",1131,1198)],26.5,"bold"))
L.append(text([("Pathway Expression",41,1490)],33.4,"bold",angle=270,align="center"))
rowh=(DY1-DY0)/24
L.append(text([(n,1204,DY0+(i+.5)*rowh-1.5) for i,n in enumerate(D_NAMES) if not n.startswith("VERHAAK")],20,"bold",color="#1A1A1A"))
L.append(text([(n,1204,DY0+(i+.5)*rowh-1.5) for i,n in enumerate(D_NAMES) if n.startswith("VERHAAK")],20,"bold",color="#0AA5D6"))
hd = sx((0,66),(134,68)); pd_ = sy((-.5,23.5),(DY0,DY1))
hs=[];vs=[]
for h,pa,ha,pb,hb in MERGES:
    vs.append((h,pa,pb)); hs.append((h,ha,pa)); hs.append((h,hb,pb))
L.append(hrule(hs,"#000000",2.4,xs=hd,ys=pd_,strokeCap="square"))
L.append(vrule(vs,"#000000",2.4,xs=hd,ys=pd_,strokeCap="square"))
# D legends
L.append(text([("Correlation",1817,1237),("HumGene",1817,1403.5),("logP",1817,1594)],23.7,"bold"))
L += colorbar(1822,1851,1253,1382.7,-.4,1378,.4,1257,DSTOPS,COLS,[.4,.2,0,-.2,-.4],["0.4","0.2","0","\u22120.2","\u22120.4"],1856)
L += colorbar(1822,1851,1419.5,1575,0,1569.7,1,1422.6,HUM_STOPS,HUM_COLS,[1,.8,.6,.4,.2,0],["1","0.8","0.6","0.4","0.2","0"],1856)
L += colorbar(1822,1851,1610.4,1741.7,0,1735,8,1614,LOGP_STOPS,LOGP_COLS,[8,6,4,2,0],["8","6","4","2","0"],1856)

chart = alt.layer(*L).resolve_scale(
    x="independent",y="independent",color="independent",fill="independent",stroke="independent").properties(
    width=1945,height=1941,padding=0,autosize=alt.AutoSizeParams(type="none"),background="#FFFFFF").configure_view(stroke=None)
chart.save("out.html", embed_options={"renderer": "svg", "actions": False})
